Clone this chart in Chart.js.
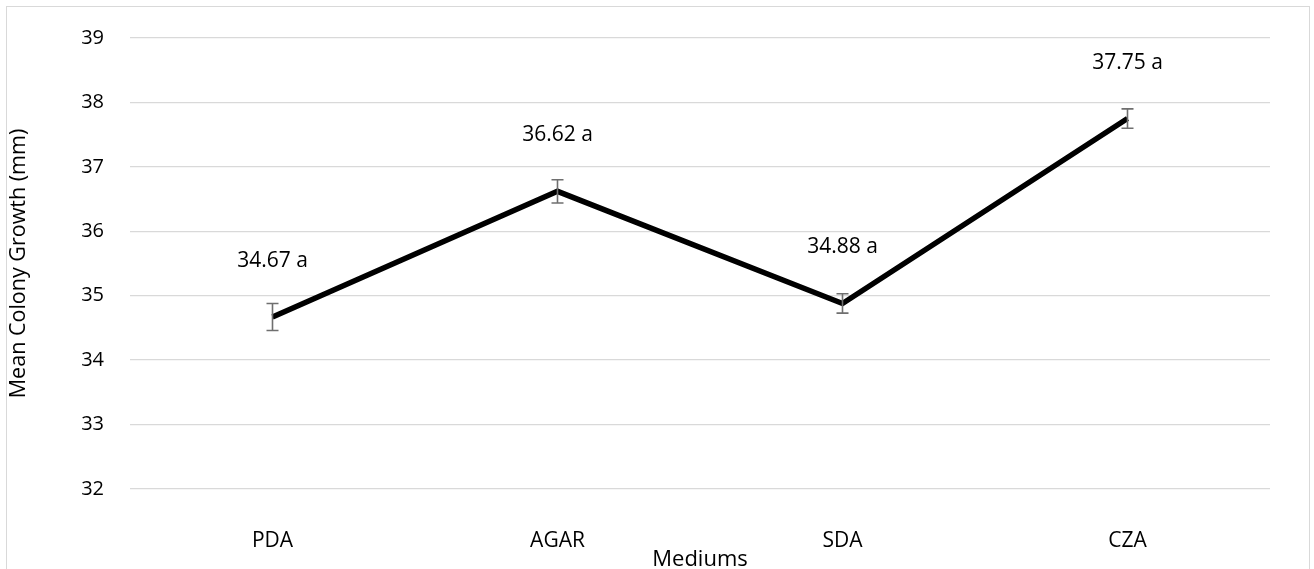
<!DOCTYPE html>
<html>
<head>
<meta charset="utf-8">
<script src="https://cdn.jsdelivr.net/npm/chart.js@4"></script>
<style>
  html, body { margin: 0; padding: 0; background: #fff; }
  #wrap { position: relative; width: 1314px; height: 569px; overflow: hidden; }
  #frame { position: absolute; left: 6px; top: 6px; width: 1304px; height: 600px; border: 1px solid #d9d9d9; box-sizing: border-box; pointer-events: none; }
  canvas { position: absolute; left: 0; top: 0; }
</style>
</head>
<body>
<div id="wrap">
  <canvas id="lineChart" width="1314" height="569"></canvas>
  <div id="frame"></div>
</div>
<script>
const mediums = ['PDA', 'AGAR', 'SDA', 'CZA'];
const meanGrowth = [34.67, 36.62, 34.88, 37.75];
const stdError = [0.21, 0.18, 0.15, 0.15];
const groupLetters = ['a', 'a', 'a', 'a'];
const yTicks = [32, 33, 34, 35, 36, 37, 38, 39];

const FONT = "'Open Sans', 'Noto Sans', sans-serif";

// error bars + labels, drawn through the chart scales
const extrasPlugin = {
    id: 'extras',
    afterDatasetsDraw(chart) {
        const ctx = chart.ctx;
        const x = chart.scales.x;
        const y = chart.scales.y;
        ctx.save();
        ctx.strokeStyle = '#6f6f6f';
        ctx.lineWidth = 1.6;
        meanGrowth.forEach((v, i) => {
            const px = x.getPixelForValue(i);
            const top = y.getPixelForValue(v + stdError[i]);
            const bot = y.getPixelForValue(v - stdError[i]);
            ctx.beginPath();
            ctx.moveTo(px, top); ctx.lineTo(px, bot);
            ctx.moveTo(px - 6, top); ctx.lineTo(px + 6, top);
            ctx.moveTo(px - 6, bot); ctx.lineTo(px + 6, bot);
            ctx.stroke();
        });
        ctx.restore();
    },
    afterDraw(chart) {
        const ctx = chart.ctx;
        const meta = chart.getDatasetMeta(0);
        ctx.save();
        ctx.fillStyle = '#000';
        ctx.font = '21px ' + FONT;
        ctx.textAlign = 'center';
        ctx.textBaseline = 'middle';
        meta.data.forEach((pt, i) => {
            ctx.fillText(meanGrowth[i].toFixed(2) + ' ' + groupLetters[i], pt.x, pt.y - 56);
        });
        ctx.restore();
    }
};

new Chart(document.getElementById('lineChart').getContext('2d'), {
    type: 'line',
    data: {
        labels: mediums,
        datasets: [{
            data: meanGrowth,
            borderColor: '#000',
            borderWidth: 5.5,
            pointRadius: 0,
            tension: 0,
            borderJoinStyle: 'miter'
        }]
    },
    options: {
        responsive: false,
        animation: false,
        layout: { padding: { left: 6, right: 44, top: 36, bottom: 0 } },
        plugins: { legend: { display: false }, tooltip: { enabled: false } },
        scales: {
            x: {
                offset: true,
                grid: { display: false, drawTicks: false },
                border: { display: false },
                ticks: { color: '#000', font: { family: FONT, size: 21 }, padding: 39 },
                title: { display: true, text: 'Mediums', color: '#000', font: { family: FONT, size: 22 }, padding: { top: 0, bottom: -4 } },
                afterFit(scale) { scale.height = 80; }
            },
            y: {
                min: 32,
                max: 39,
                afterBuildTicks(scale) { scale.ticks = yTicks.map(v => ({ value: v })); },
                grid: { color: '#d9d9d9', lineWidth: 1.3, drawTicks: false },
                border: { display: false },
                ticks: { color: '#000', font: { family: FONT, size: 20 }, padding: 26 },
                title: { display: true, text: 'Mean Colony Growth (mm)', color: '#000', font: { family: FONT, size: 21.5 }, padding: { top: 0, bottom: 0 } },
                afterFit(scale) { scale.width = 124; }
            }
        }
    },
    plugins: [extrasPlugin]
});
</script>
</body>
</html>
